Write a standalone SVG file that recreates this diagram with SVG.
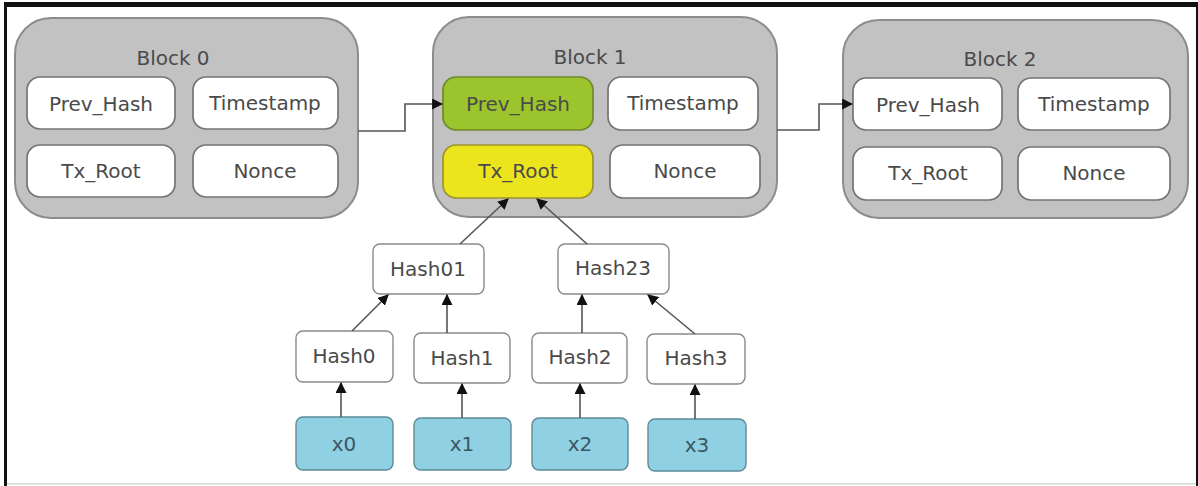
<svg xmlns="http://www.w3.org/2000/svg" width="1198" height="486" viewBox="0 0 1198 486">
<defs>
<style>
.blk{fill:#c2c2c2;stroke:#8c8c8c;stroke-width:2}
.fld{fill:#ffffff;stroke:#747474;stroke-width:1.7}
.grn{fill:#9cc42c;stroke:#6f8a2a;stroke-width:1.7}
.yel{fill:#ece51e;stroke:#9a9430;stroke-width:1.7}
.hsh{fill:#ffffff;stroke:#8a8a8a;stroke-width:1.4}
.dat{fill:#8fd0e2;stroke:#5e8a98;stroke-width:1.4}
.t{font-family:"DejaVu Sans","Liberation Sans",sans-serif;font-size:20px;fill:#4a4a4a;text-anchor:middle;dominant-baseline:central}
.ti{font-size:20px}
.td{fill:#3c5662}
.c{fill:none;stroke:#555555;stroke-width:1.6}
</style>
<marker id="ah" viewBox="0 0 10 10" refX="9" refY="5" markerWidth="11" markerHeight="11" markerUnits="userSpaceOnUse" orient="auto">
<path d="M0,0 L10,5 L0,10 z" fill="#111111"/>
</marker>
</defs>
<rect x="0" y="0" width="1198" height="486" fill="#ffffff"/>
<rect x="4" y="2" width="1194" height="5" fill="#111111"/>
<rect x="4" y="2" width="3" height="484" fill="#111111"/>
<rect x="1196" y="2" width="2" height="484" fill="#111111"/>
<rect x="7" y="483" width="1189" height="1.5" fill="#d8d8d8"/>

<g id="block0">
<rect class="blk" x="15" y="18" width="343" height="200" rx="36"/>
<text class="t ti" x="173" y="58">Block 0</text>
<rect class="fld" x="27" y="77" width="148" height="52" rx="13"/>
<text class="t" x="101" y="104">Prev_Hash</text>
<rect class="fld" x="193" y="77" width="145" height="52" rx="13"/>
<text class="t" x="265" y="103">Timestamp</text>
<rect class="fld" x="27" y="145" width="148" height="52" rx="13"/>
<text class="t" x="101" y="171">Tx_Root</text>
<rect class="fld" x="193" y="145" width="145" height="52" rx="13"/>
<text class="t" x="265" y="171">Nonce</text>
</g>

<g id="block1">
<rect class="blk" x="433" y="17" width="344" height="200" rx="36"/>
<text class="t ti" x="590" y="57">Block 1</text>
<rect class="grn" x="443" y="77" width="150" height="53" rx="13"/>
<text class="t" x="518" y="104">Prev_Hash</text>
<rect class="fld" x="608" y="77" width="150" height="53" rx="13"/>
<text class="t" x="683" y="103">Timestamp</text>
<rect class="yel" x="443" y="145" width="150" height="53" rx="13"/>
<text class="t" x="518" y="171">Tx_Root</text>
<rect class="fld" x="610" y="145" width="150" height="53" rx="13"/>
<text class="t" x="685" y="171">Nonce</text>
</g>

<g id="block2">
<rect class="blk" x="843" y="20" width="345" height="198" rx="36"/>
<text class="t ti" x="1000" y="59">Block 2</text>
<rect class="fld" x="853" y="78" width="149" height="52" rx="13"/>
<text class="t" x="928" y="105">Prev_Hash</text>
<rect class="fld" x="1018" y="78" width="152" height="52" rx="13"/>
<text class="t" x="1094" y="104">Timestamp</text>
<rect class="fld" x="853" y="147" width="149" height="53" rx="13"/>
<text class="t" x="928" y="173">Tx_Root</text>
<rect class="fld" x="1018" y="147" width="152" height="53" rx="13"/>
<text class="t" x="1094" y="173">Nonce</text>
</g>

<g id="hash01">
<rect class="hsh" x="373" y="244" width="111" height="50" rx="7"/>
<text class="t" x="428" y="269">Hash01</text>
</g>
<g id="hash23">
<rect class="hsh" x="558" y="244" width="111" height="50" rx="7"/>
<text class="t" x="613" y="268">Hash23</text>
</g>
<g id="hash0">
<rect class="hsh" x="296" y="331" width="97" height="51" rx="7"/>
<text class="t" x="344" y="356">Hash0</text>
</g>
<g id="hash1">
<rect class="hsh" x="414" y="333" width="96" height="50" rx="7"/>
<text class="t" x="462" y="358">Hash1</text>
</g>
<g id="hash2">
<rect class="hsh" x="532" y="333" width="95" height="50" rx="7"/>
<text class="t" x="580" y="357">Hash2</text>
</g>
<g id="hash3">
<rect class="hsh" x="647" y="334" width="98" height="50" rx="7"/>
<text class="t" x="696" y="358">Hash3</text>
</g>
<g id="x0">
<rect class="dat" x="296" y="417" width="97" height="53" rx="7"/>
<text class="t td" x="344" y="444">x0</text>
</g>
<g id="x1">
<rect class="dat" x="414" y="418" width="97" height="52" rx="7"/>
<text class="t td" x="462" y="444">x1</text>
</g>
<g id="x2">
<rect class="dat" x="532" y="418" width="96" height="52" rx="7"/>
<text class="t td" x="580" y="444">x2</text>
</g>
<g id="x3">
<rect class="dat" x="648" y="419" width="98" height="52" rx="7"/>
<text class="t td" x="697" y="445">x3</text>
</g>

<g id="connectors">
<path class="c" d="M358,131 H405 V104 H442" marker-end="url(#ah)"/>
<path class="c" d="M777,130 H819 V104 H852" marker-end="url(#ah)"/>
<path class="c" d="M460,244 L508,199" marker-end="url(#ah)"/>
<path class="c" d="M587,244 L537,199" marker-end="url(#ah)"/>
<path class="c" d="M352,331 L388,295" marker-end="url(#ah)"/>
<path class="c" d="M447,333 V295" marker-end="url(#ah)"/>
<path class="c" d="M582,333 V295" marker-end="url(#ah)"/>
<path class="c" d="M695,334 L648,295" marker-end="url(#ah)"/>
<path class="c" d="M341,417 V383" marker-end="url(#ah)"/>
<path class="c" d="M462,418 V384" marker-end="url(#ah)"/>
<path class="c" d="M580,418 V384" marker-end="url(#ah)"/>
<path class="c" d="M695,419 V385" marker-end="url(#ah)"/>
</g>
</svg>
